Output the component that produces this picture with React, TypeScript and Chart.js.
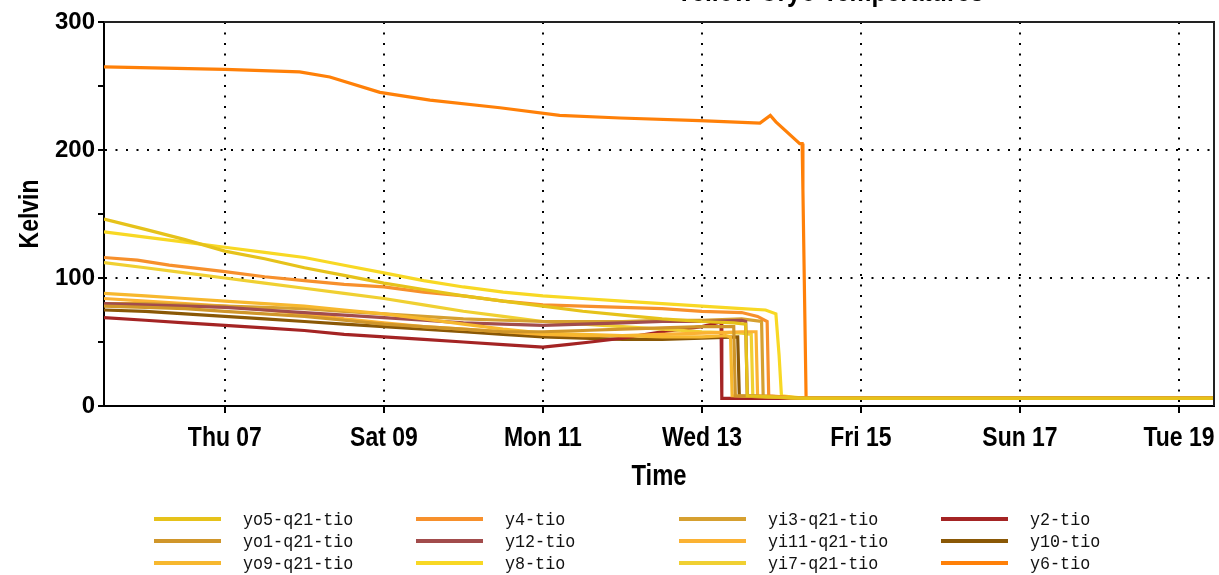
import React, { useEffect, useRef } from "react";
import { Chart, registerables } from "chart.js";

Chart.register(...registerables);

// ---------- text ----------
const TITLE = "Yellow Cryo Temperatures";
const X_TITLE = "Time";
const Y_TITLE = "Kelvin";

// ---------- axes (x = day of month) ----------
const X_MIN = 5.48;
const X_MAX = 19.44;
const X_TICK_DAYS = [7, 9, 11, 13, 15, 17, 19];
const X_TICK_LABELS = ["Thu 07", "Sat 09", "Mon 11", "Wed 13", "Fri 15", "Sun 17", "Tue 19"];
const Y_MIN = 0;
const Y_MAX = 300;
const Y_TICKS = [0, 50, 100, 150, 200, 250, 300];
const Y_LABELED = [0, 100, 200, 300];
const Y_GRID = [100, 200];

// ---------- series (legend order, column-major) ----------
const SERIES_LABELS = [
  "yo5-q21-tio", "yo1-q21-tio", "yo9-q21-tio",
  "y4-tio", "y12-tio", "y8-tio",
  "yi3-q21-tio", "yi11-q21-tio", "yi7-q21-tio",
  "y2-tio", "y10-tio", "y6-tio",
];
const SERIES_COLORS = [
  "#e6c21a", "#d0962a", "#f7b82e",
  "#f7902c", "#a24c4c", "#f8d824",
  "#d6a030", "#fbb233", "#f0d032",
  "#a42424", "#8a5806", "#ff8008",
];

// [day, kelvin]
const YO5_Q21 = [[5.48,146],[6,138],[6.5,130],[7,121],[7.5,115],[8,108],[8.5,102],[9,96],[9.5,91],[10,86],[10.5,82],[11,78],[11.5,74],[12,71],[12.5,68],[13,66],[13.4,65],[13.55,64],[13.57,8],[14.3,6],[19.44,6]];
const YO1_Q21 = [[5.48,78],[6,77],[6.5,76],[7,74],[7.5,72],[8,70],[8.5,67],[9,64],[9.5,62],[10,60],[10.5,58],[11,58],[11.5,59],[12,60],[12.5,61],[13,62],[13.4,62],[13.42,8],[14.3,6],[19.44,6]];
const YO9_Q21 = [[5.48,88],[6,86],[6.5,84],[7,82],[7.5,80],[8,78],[8.5,75],[9,72],[9.5,68],[10,64],[10.5,60],[11,57],[11.5,56],[12,55],[12.5,54],[13,54],[13.3,55],[13.36,54],[13.38,8],[14.3,6],[19.44,6]];
const Y4 = [[5.48,116],[5.9,114],[6.3,110],[7,105],[7.5,101],[8,98],[8.5,95],[9,93],[9.5,89],[10,86],[10.5,82],[11,79],[11.5,78],[12,77],[12.5,76],[13,74],[13.5,73],[13.7,70],[13.82,66],[13.84,8],[14.3,6],[19.44,6]];
const Y12 = [[5.48,80],[6,79],[6.5,78],[7,77],[7.5,75],[8,73],[8.5,71],[9,69],[9.5,67],[10,65],[10.5,64],[11,63],[11.5,64],[12,65],[12.5,66],[13,66],[13.5,67],[13.55,66],[13.57,8],[14.3,6],[19.44,6]];
const Y8 = [[5.48,136],[6,132],[6.5,128],[7,124],[7.5,120],[8,116],[8.5,110],[9,104],[9.5,98],[10,93],[10.5,89],[11,86],[11.5,84],[12,82],[12.5,80],[13,78],[13.5,76],[13.8,75],[13.93,72],[13.97,40],[14.0,8],[14.3,6],[19.44,6]];
const YI3_Q21 = [[5.48,80],[6,80],[6.5,79],[7,78],[7.5,77],[8,76],[8.5,74],[9,72],[9.5,70],[10,68],[10.5,67],[11,66],[11.5,66],[12,66],[12.5,67],[13,67],[13.5,68],[13.75,66],[13.77,8],[14.3,6],[19.44,6]];
const YI11_Q21 = [[5.48,84],[6,82],[6.5,80],[7,78],[7.5,75],[8,72],[8.5,68],[9,65],[9.5,62],[10,60],[10.5,58],[11,56],[11.5,55],[12,55],[12.5,56],[13,57],[13.5,58],[13.68,58],[13.7,8],[14.3,6],[19.44,6]];
const YI7_Q21 = [[5.48,112],[6,108],[6.5,104],[7,100],[7.5,96],[8,92],[8.5,88],[9,84],[9.5,79],[10,74],[10.5,70],[11,66],[11.5,64],[12,62],[12.5,60],[13,58],[13.5,57],[13.62,56],[13.64,8],[14.3,6],[19.44,6]];
const Y2 = [[5.48,69],[6,67],[6.5,65],[7,63],[7.5,61],[8,59],[8.5,56],[9,54],[9.5,52],[10,50],[10.5,48],[11,46],[11.3,48],[11.6,50],[12,53],[12.5,58],[13,62],[13.2,65],[13.24,66],[13.25,6],[14.3,6],[19.44,6]];
const Y10 = [[5.48,75],[6,74],[6.5,72],[7,70],[7.5,68],[8,66],[8.5,64],[9,62],[9.5,60],[10,58],[10.5,56],[11,54],[11.5,53],[12,52],[12.5,52],[13,53],[13.45,54],[13.47,8],[14.3,6],[19.44,6]];
const Y6 = [[5.48,265],[7,263],[7.94,261],[8.32,257],[8.95,245],[9.58,239],[10.46,233],[11.21,227],[11.97,225],[12.97,223],[13.73,221],[13.86,227],[13.93,222],[14.23,205],[14.26,205],[14.27,169],[14.31,6],[19.44,6]];

const SERIES_DATA = [YO5_Q21, YO1_Q21, YO9_Q21, Y4, Y12, Y8, YI3_Q21, YI11_Q21, YI7_Q21, Y2, Y10, Y6];

const SANS = '"Liberation Sans", Arial, sans-serif';
const MONO = '"Liberation Mono", "DejaVu Sans Mono", monospace';

function condensedText(ctx: any, text: string, x: number, y: number, sx: number, font: string, rot = 0) {
  ctx.save();
  ctx.translate(x, y);
  if (rot) ctx.rotate(rot);
  ctx.scale(sx, 1);
  ctx.font = font;
  ctx.fillStyle = "#000";
  ctx.textAlign = "center";
  ctx.textBaseline = "alphabetic";
  ctx.fillText(text, 0, 0);
  ctx.restore();
}

const textPlugin = {
  id: "texts",
  afterDraw(chart: any) {
    const { ctx, chartArea } = chart;
    const xs = chart.scales.x;
    ctx.save();
    // frame top / right
    ctx.strokeStyle = "#222";
    ctx.lineWidth = 2;
    ctx.beginPath();
    ctx.moveTo(chartArea.left, chartArea.top);
    ctx.lineTo(chartArea.right, chartArea.top);
    ctx.lineTo(chartArea.right, chartArea.bottom);
    ctx.stroke();
    ctx.restore();
    // x tick labels
    X_TICK_DAYS.forEach((d, i) => {
      condensedText(ctx, X_TICK_LABELS[i], xs.getPixelForValue(d), 446, 0.82, "bold 28px " + SANS);
    });
    // axis titles
    condensedText(ctx, X_TITLE, (chartArea.left + chartArea.right) / 2, 485, 0.82, "bold 29px " + SANS);
    condensedText(ctx, Y_TITLE, 38, (chartArea.top + chartArea.bottom) / 2, 0.85, "bold 27px " + SANS, -Math.PI / 2);
    // chart title (clipped at the top of the picture)
    condensedText(ctx, TITLE, 830, 0.5, 0.85, "bold 29px " + SANS);
  },
};

const legendPlugin = {
  id: "gridLegend",
  afterDraw(chart: any) {
    const { ctx } = chart;
    const colX = [154, 416, 679, 941];
    const rowY = [519, 541, 563];
    const sampleLen = 67;
    chart.data.datasets.forEach((ds: any, i: number) => {
      const col = Math.floor(i / 3);
      const row = i % 3;
      const x = colX[col];
      const y = rowY[row];
      ctx.save();
      ctx.strokeStyle = ds.borderColor;
      ctx.lineWidth = 4;
      ctx.beginPath();
      ctx.moveTo(x, y);
      ctx.lineTo(x + sampleLen, y);
      ctx.stroke();
      ctx.translate(x + sampleLen + 22, y + 6);
      ctx.scale(0.88, 1);
      ctx.font = "19px " + MONO;
      ctx.fillStyle = "#111";
      ctx.textAlign = "left";
      ctx.textBaseline = "alphabetic";
      ctx.fillText(ds.label, 0, 0);
      ctx.restore();
    });
  },
};

export default function App() {
  const ref = useRef<HTMLCanvasElement>(null);
  useEffect(() => {
    if (!ref.current) return;
    const chart = new Chart(ref.current, {
      type: "line",
      data: {
        datasets: SERIES_LABELS.map((label, i) => ({
          label,
          data: SERIES_DATA[i].map(([x, y]) => ({ x, y })),
          borderColor: SERIES_COLORS[i],
          backgroundColor: SERIES_COLORS[i],
          borderWidth: 3.2,
          pointRadius: 0,
          tension: 0,
          fill: false,
        })),
      },
      options: {
        responsive: false,
        animation: false,
        events: [],
        layout: { padding: { top: 22, right: 5, bottom: 80, left: 0 } },
        plugins: {
          legend: { display: false },
          tooltip: { enabled: false },
          title: { display: false },
        },
        scales: {
          x: {
            type: "linear",
            min: X_MIN,
            max: X_MAX,
            afterBuildTicks: (scale: any) => {
              scale.ticks = X_TICK_DAYS.map((v) => ({ value: v }));
            },
            afterFit: (scale: any) => {
              scale.height = 89;
            },
            ticks: { display: false },
            grid: {
              color: "#000",
              lineWidth: 2,
              tickColor: "#000",
              tickWidth: 2,
              tickLength: 7,
            },
            border: { display: true, color: "#000", width: 2, dash: [2, 8.5] },
            title: { display: false, text: X_TITLE },
          },
          y: {
            type: "linear",
            min: Y_MIN,
            max: Y_MAX,
            afterBuildTicks: (scale: any) => {
              scale.ticks = Y_TICKS.map((v) => ({ value: v }));
            },
            afterFit: (scale: any) => {
              scale.width = 104;
            },
            ticks: {
              padding: 3,
              color: "#000",
              font: { family: SANS, size: 24, weight: "bold" },
              callback: (v: any) => (Y_LABELED.includes(Number(v)) ? String(v) : ""),
            },
            grid: {
              color: (c: any) =>
                c.tick && Y_GRID.includes(c.tick.value) ? "#000" : "rgba(0,0,0,0)",
              lineWidth: 2,
              tickColor: "#000",
              tickWidth: 2,
              tickLength: 6,
            },
            border: { display: true, color: "#000", width: 2, dash: [2, 8.5] },
            title: { display: false, text: Y_TITLE },
          },
        },
      } as any,
      plugins: [textPlugin, legendPlugin],
    });
    return () => chart.destroy();
  }, []);
  return (
    <canvas
      ref={ref}
      width={1219}
      height={575}
      style={{ position: "absolute", left: 0, top: 0, width: 1219, height: 575, background: "#fff" }}
    />
  );
}
